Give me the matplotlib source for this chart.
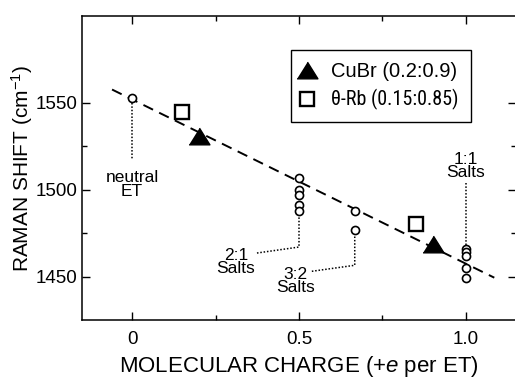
import matplotlib
matplotlib.use('Agg')
import matplotlib.pyplot as plt

plt.rcParams['font.family'] = ['Liberation Sans', 'DejaVu Sans']
plt.rcParams['mathtext.fontset'] = 'custom'
plt.rcParams['mathtext.rm'] = 'Liberation Sans'
plt.rcParams['mathtext.it'] = 'Liberation Sans:italic'

# ET salts (open circles)
neutral_x = [0.0]
neutral_y = [1553]
salt21_x = [0.5, 0.5, 0.5, 0.5, 0.5]
salt21_y = [1507, 1500, 1497, 1491, 1488]
salt32_x = [0.667, 0.667]
salt32_y = [1488, 1477]
salt11_x = [1.0, 1.0, 1.0, 1.0, 1.0]
salt11_y = [1466, 1464, 1462, 1455, 1449]

# CuBr and theta-Rb
cubr_x = [0.2, 0.9]
cubr_y = [1531, 1469]
rb_x = [0.15, 0.85]
rb_y = [1545, 1480]

# linear fit shown as dashed line
fit_intercept = 1552
fit_slope = -94.6
fit_x = [-0.06, 1.085]

# leader lines from the point groups to their labels
leader_neutral = ([0.0, 0.0], [1550, 1517])
leader_21 = ([0.5, 0.5, 0.372], [1486, 1467, 1463.5])
leader_32 = ([0.667, 0.667, 0.537], [1475, 1456.5, 1453])
leader_11 = ([1.0, 1.0], [1504, 1468])

labels = [
    ('neutral\nET', 0.0, 1503),
    ('2:1\nSalts', 0.311, 1458.5),
    ('3:2\nSalts', 0.49, 1447.5),
    ('1:1\nSalts', 1.0, 1513.5),
]

fig = plt.figure(figsize=(5.15, 3.78), dpi=100)
ax = fig.add_axes([82 / 515, 1 - 320 / 378, 434 / 515, 304 / 378])

fit_y = [fit_intercept + fit_slope * x for x in fit_x]
ax.plot(fit_x, fit_y, color='black', lw=1.4, dashes=(5.5, 3.5), zorder=2)

for lx, ly in [leader_neutral, leader_21, leader_32, leader_11]:
    ax.plot(lx, ly, color='black', lw=1.1, ls=(0, (1, 1.2)), zorder=1)

all_cx = neutral_x + salt21_x + salt32_x + salt11_x
all_cy = neutral_y + salt21_y + salt32_y + salt11_y
ax.plot(all_cx, all_cy, 'o', ms=5.8, mfc='white', mec='black', mew=1.2, ls='none', zorder=3)

tri = [(-1, -0.8), (1, -0.8), (0, 0.8)]
ax.plot(cubr_x, cubr_y, marker=tri, ms=15, color='black', ls='none', zorder=4,
        label='CuBr (0.2:0.9)')
ax.plot(rb_x, rb_y, marker='s', ms=10, mfc='white', mec='black', mew=1.7, ls='none',
        zorder=4, label='\u03b8-Rb (0.15:0.85)')

for text, tx, ty in labels:
    ax.text(tx, ty, text, ha='center', va='center', fontsize=12.5, linespacing=0.85,
            zorder=5)

ax.set_xlim(-0.15, 1.15)
ax.set_ylim(1425, 1600)
ax.set_xticks([0, 0.5, 1.0])
ax.set_xticklabels(['0', '0.5', '1.0'])
ax.set_xticks([0.25, 0.75], minor=True)
ax.set_yticks([1450, 1500, 1550])
ax.set_yticks([1475, 1525], minor=True)
ax.tick_params(which='both', direction='in', top=True, right=True, labelsize=13.5,
               width=1)
ax.tick_params(which='major', length=6)
ax.tick_params(which='minor', length=3.5)
ax.tick_params(axis='x', pad=8)
ax.tick_params(axis='y', pad=3)
for sp in ax.spines.values():
    sp.set_linewidth(1.1)

ax.set_xlabel('MOLECULAR CHARGE (+$\\mathit{e}$ per ET)', fontsize=16, labelpad=4)
ax.set_ylabel('RAMAN SHIFT (cm$^{\\mathrm{-1}}$)', fontsize=15, labelpad=0.5)

leg = ax.legend(loc='upper left', bbox_to_anchor=(0.482, 0.888), fontsize=14.5,
                frameon=True, fancybox=False, edgecolor='black', framealpha=1,
                handlelength=0.4, handletextpad=1.0, borderpad=0.6, labelspacing=0.4,
                borderaxespad=0, numpoints=1)
leg.get_frame().set_linewidth(1.0)
# second entry is set in a narrow face in the original
leg.get_texts()[1].set_fontfamily(['Roboto Condensed', 'Liberation Sans', 'DejaVu Sans'])

fig.savefig('out.png', dpi=100)
